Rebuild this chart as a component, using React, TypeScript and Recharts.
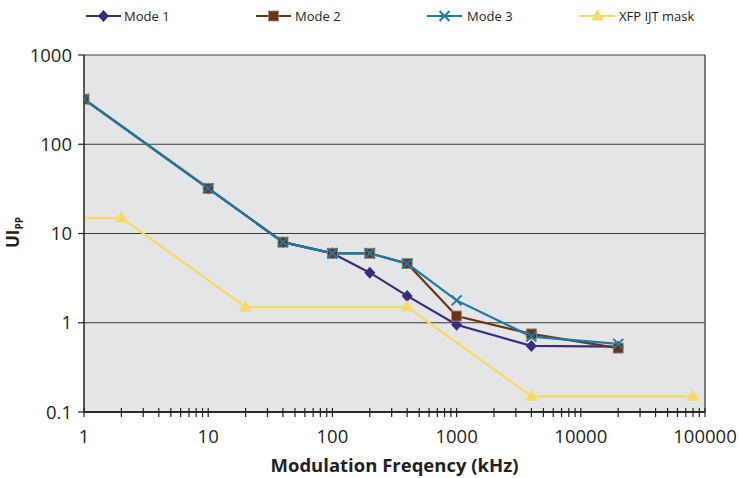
import React from 'react';
import { LineChart, Line, XAxis, YAxis, CartesianGrid, ReferenceLine } from 'recharts';

// frequencies (kHz) and jitter tolerance (UI pp)
const modeFreqs = [1, 10, 40, 100, 200, 400, 1000, 4000, 20000];
const mode1Values = [320, 32, 8, 6, 3.64, 2.0, 0.95, 0.55, 0.54];
const mode2Values = [320, 32, 8, 6, 6, 4.6, 1.19, 0.75, 0.52];
const mode3Values = [320, 32, 8, 6, 6, 4.6, 1.78, 0.7, 0.58];
const maskFreqs = [1, 2, 20, 400, 4000, 80000];
const maskValues = [15, 15, 1.5, 1.5, 0.15, 0.15];

const xMajorTicks = [1, 10, 100, 1000, 10000, 100000];
const xMinorSteps = [2, 3, 4, 5, 6, 7, 8, 9];
const yTicks = [0.1, 1, 10, 100, 1000];

const seriesNames = ['Mode 1', 'Mode 2', 'Mode 3', 'XFP IJT mask'];

const FONT = '"Open Sans", "Noto Sans", sans-serif';
const TEXT = '#231f20';
const C1 = '#3b2b7c';
const C2 = '#6b3415';
const C3 = '#1a7ca6';
const CM = '#f8d964';

const toPoints = (xs: number[], ys: number[]) => xs.map((x, i) => ({ x, y: ys[i] }));
const mode1 = toPoints(modeFreqs, mode1Values);
const mode2 = toPoints(modeFreqs, mode2Values);
const mode3 = toPoints(modeFreqs, mode3Values);
const mask = toPoints(maskFreqs, maskValues);

const xAllTicks = xMajorTicks.concat(
  xMajorTicks.slice(0, -1).flatMap((m) => xMinorSteps.map((s) => m * s))
);

const Diamond = ({ cx, cy }: any) => (
  <path d={`M${cx},${cy - 6}L${cx + 5.5},${cy}L${cx},${cy + 6}L${cx - 5.5},${cy}Z`} fill={C1} />
);
const Square = ({ cx, cy }: any) => (
  <rect x={cx - 5} y={cy - 5} width={10} height={10} fill={C2} stroke="#9a8a80" strokeWidth={0.8} />
);
const Cross = ({ cx, cy }: any) => (
  <g stroke={C3} strokeWidth={2}>
    <line x1={cx - 5} y1={cy - 5} x2={cx + 5} y2={cy + 5} />
    <line x1={cx - 5} y1={cy + 5} x2={cx + 5} y2={cy - 5} />
  </g>
);
const Triangle = ({ cx, cy }: any) => (
  <path d={`M${cx},${cy - 7}L${cx + 6.5},${cy + 4.5}L${cx - 6.5},${cy + 4.5}Z`} fill={CM} />
);

const dotFn = (Shape: any) => (props: any) => {
  const { cx, cy, index, key } = props;
  if (cx == null || cy == null) return <g key={key ?? index} />;
  return <Shape key={key ?? `d${index}`} cx={cx} cy={cy} />;
};

const maskDot = (props: any) => {
  const { cx, cy, index, key } = props;
  // the mask line enters from the left edge without a marker
  if (index === 0 || cx == null) return <g key={key ?? index} />;
  return <Triangle key={key ?? `m${index}`} cx={cx} cy={cy} />;
};

const XTick = ({ x, y, payload }: any) => {
  const v = payload.value;
  const major = xMajorTicks.includes(v);
  return (
    <g>
      <line x1={x} x2={x} y1={y - 4} y2={y + 5} stroke="#222" strokeWidth={1.2} />
      {major && (
        <text x={x} y={y + 31} textAnchor="middle" fontFamily={FONT} fontSize={18.5} fill={TEXT}>
          {v}
        </text>
      )}
    </g>
  );
};

const YTick = ({ x, y, payload }: any) => (
  <g>
    <line x1={x - 6} x2={x} y1={y} y2={y} stroke="#222" strokeWidth={1.2} />
    <text x={x - 12} y={y} dy="0.36em" textAnchor="end" fontFamily={FONT} fontSize={18.5} fill={TEXT}>
      {payload.value}
    </text>
  </g>
);

const YTitle = ({ viewBox }: any) => {
  const cy = viewBox ? viewBox.y + viewBox.height / 2 - 1 : 232;
  return (
    <text
      transform={`translate(19, ${cy}) rotate(-90)`}
      textAnchor="middle"
      fontFamily={FONT}
      fontWeight={700}
      fontSize={17}
      fill={TEXT}
    >
      UI
      <tspan fontSize={10} dy={4}>PP</tspan>
    </text>
  );
};

const XTitle = ({ viewBox }: any) => {
  const cx = viewBox ? viewBox.x + viewBox.width / 2 : 394;
  const y = viewBox ? viewBox.y + 60 : 472;
  return (
    <text x={cx} y={y} textAnchor="middle" fontFamily={FONT} fontWeight={700} fontSize={18.5} fill={TEXT}>
      Modulation Freqency (kHz)
    </text>
  );
};

const legendItems = [
  { color: C1, Shape: Diamond, lineX: 86, textX: 124 },
  { color: C2, Shape: Square, lineX: 256, textX: 295 },
  { color: C3, Shape: Cross, lineX: 427, textX: 467 },
  { color: CM, Shape: Triangle, lineX: 580, textX: 619 },
];

const TopLegend = () => (
  <svg width={739} height={32} style={{ position: 'absolute', left: 0, top: 0 }}>
    {legendItems.map((it, i) => (
      <g key={seriesNames[i]}>
        <line x1={it.lineX} x2={it.lineX + 35} y1={16} y2={16} stroke={it.color} strokeWidth={2} />
        <it.Shape cx={it.lineX + 17.5} cy={16} />
        <text x={it.textX} y={16} dy="0.35em" fontFamily={FONT} fontSize={13} fill={TEXT}>
          {seriesNames[i]}
        </text>
      </g>
    ))}
  </svg>
);

export default function App() {
  return (
    <div style={{ position: 'absolute', left: 0, top: 0, width: 739, height: 478, background: '#fff' }}>
      <LineChart width={739} height={478} margin={{ top: 55, right: 34, left: 0, bottom: 0 }}>
        <CartesianGrid vertical={false} fill="#e4e5e7" stroke="#3a3a3a" strokeWidth={1} />
        <XAxis
          dataKey="x"
          type="number"
          scale="log"
          domain={[1, 100000]}
          allowDataOverflow
          ticks={xAllTicks}
          interval={0}
          tickSize={0}
          tickMargin={0}
          tickLine={false}
          tick={<XTick />}
          axisLine={{ stroke: '#2b2b2b', strokeWidth: 2 }}
          height={66}
          label={<XTitle />}
        />
        <YAxis
          type="number"
          scale="log"
          domain={[0.1, 1000]}
          allowDataOverflow
          ticks={yTicks}
          interval={0}
          tickSize={0}
          tickMargin={0}
          tickLine={false}
          tick={<YTick />}
          axisLine={{ stroke: '#222', strokeWidth: 1.5 }}
          width={84}
          label={<YTitle />}
        />
        <ReferenceLine x={100000} stroke="#555" strokeWidth={1.5} />
        <Line data={mode1} dataKey="y" name={seriesNames[0]} stroke={C1} strokeWidth={2.2} dot={dotFn(Diamond)} isAnimationActive={false} />
        <Line data={mode2} dataKey="y" name={seriesNames[1]} stroke={C2} strokeWidth={2.2} dot={dotFn(Square)} isAnimationActive={false} />
        <Line data={mode3} dataKey="y" name={seriesNames[2]} stroke={C3} strokeWidth={2.2} dot={dotFn(Cross)} isAnimationActive={false} />
        <Line data={mask} dataKey="y" name={seriesNames[3]} stroke={CM} strokeWidth={2.2} dot={maskDot} isAnimationActive={false} />
      </LineChart>
      <TopLegend />
    </div>
  );
}
